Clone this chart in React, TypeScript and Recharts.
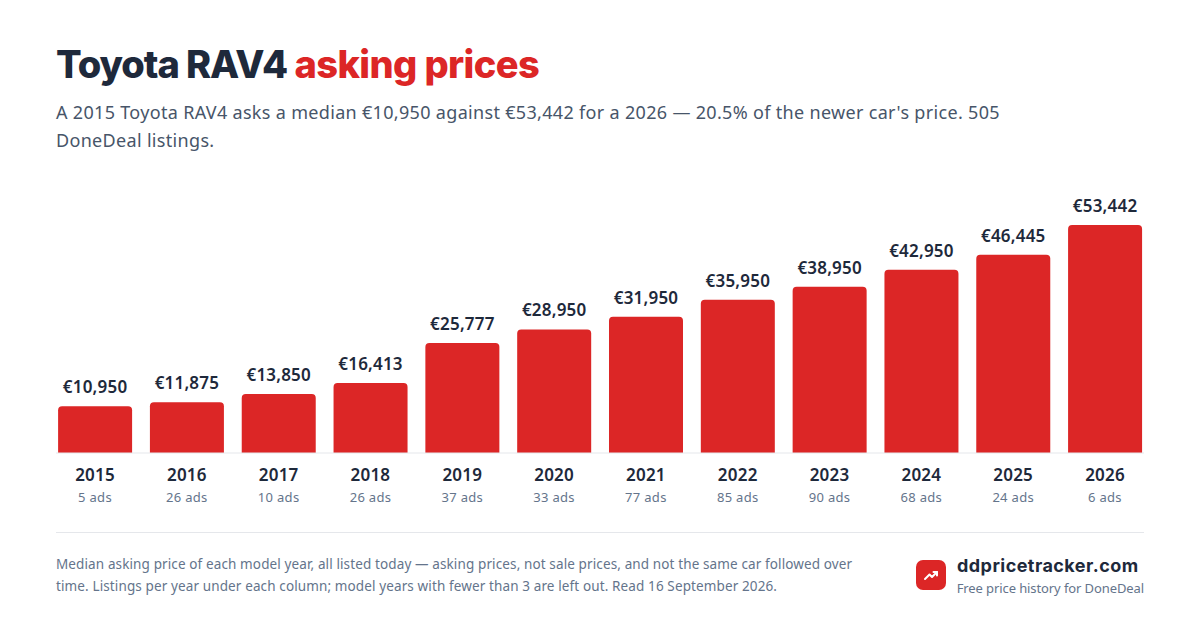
import { BarChart, Bar, XAxis, YAxis, LabelList } from "recharts";

const years = ["2015", "2016", "2017", "2018", "2019", "2020", "2021", "2022", "2023", "2024", "2025", "2026"];
const prices = [10950, 11875, 13850, 16413, 25777, 28950, 31950, 35950, 38950, 42950, 46445, 53442];
const adCounts = [5, 26, 10, 26, 37, 33, 77, 85, 90, 68, 24, 6];

const data = years.map((year, i) => ({ year, price: prices[i] }));

const RED = "#dc2626";
const INK = "#1e293b";
const SLATE = "#475569";
const MUTED = "#64748b";
const BODY_FONT = "'Noto Sans', sans-serif";

function YearTick({ x, y, payload, index }: any) {
  return (
    <g>
      <text x={x} y={y + 20} textAnchor="middle" fontFamily={BODY_FONT} fontSize={17} fontWeight={600} letterSpacing={0.2} fill={INK}>
        {payload.value}
      </text>
      <text x={x} y={y + 41} textAnchor="middle" fontFamily={BODY_FONT} fontSize={13} letterSpacing={0.3} fill={MUTED}>
        {adCounts[index]} ads
      </text>
    </g>
  );
}

const euro = (v: any) => "€" + Number(v).toLocaleString("en-US");

export default function App() {
  return (
    <div style={{ position: "absolute", left: 0, top: 0, width: 1200, height: 630, background: "#fff", overflow: "hidden", fontFamily: BODY_FONT }}>
      <div style={{ position: "absolute", left: 56, top: 40, fontFamily: "Inter, sans-serif", fontSize: 38, fontWeight: 800, letterSpacing: -1.05, lineHeight: "48px", color: INK, whiteSpace: "nowrap" }}>
        Toyota RAV4 <span style={{ color: RED, letterSpacing: -0.6 }}>asking prices</span>
      </div>
      <div style={{ position: "absolute", left: 56, top: 98, width: 980, fontSize: 18, letterSpacing: 0.32, lineHeight: "28px", color: SLATE }}>
        A 2015 Toyota RAV4 asks a median €10,950 against €53,442 for a 2026 — 20.5% of the newer car's price. 505 DoneDeal listings.
      </div>

      <BarChart
        width={1200}
        height={630}
        data={data}
        margin={{ top: 225, right: 56, bottom: 0, left: 56 }}
        barSize={74}
        style={{ position: "absolute", left: 0, top: 0 }}
      >
        <XAxis
          dataKey="year"
          height={177}
          interval={0}
          padding={{ left: -6.9, right: -6.9 }}
          axisLine={{ stroke: "#e5e7eb", strokeWidth: 1 }}
          tickLine={false}
          tick={<YearTick />}
        />
        <YAxis hide domain={[0, 53442]} />
        <Bar dataKey="price" fill={RED} radius={[4, 4, 0, 0]} isAnimationActive={false}>
          <LabelList dataKey="price" position="top" offset={13} formatter={euro} fontFamily={BODY_FONT} fontSize={17} fontWeight={600} letterSpacing={0.2} fill={INK} />
        </Bar>
      </BarChart>

      <div style={{ position: "absolute", left: 56, top: 532, width: 1088, height: 1, background: "#e5e7eb" }} />
      <div style={{ position: "absolute", left: 56, top: 553, width: 815, fontSize: 13.5, letterSpacing: 0.12, lineHeight: "22px", color: MUTED }}>
        Median asking price of each model year, all listed today — asking prices, not sale prices, and not the same car followed over time. Listings per year under each column; model years with fewer than 3 are left out. Read 16 September 2026.
      </div>

      <div style={{ position: "absolute", left: 916, top: 560, width: 30, height: 30, borderRadius: 7, background: RED }}>
        <svg width={30} height={30} viewBox="0 0 30 30" fill="none" stroke="#fff" strokeWidth={2} strokeLinecap="round" strokeLinejoin="round">
          <path d="M9 19l4.5-4.5 2.5 2.5 5-5" />
          <path d="M17.5 12H21v3.5" />
        </svg>
      </div>
      <div style={{ position: "absolute", left: 957, top: 554, fontFamily: "Inter, sans-serif", fontSize: 18, fontWeight: 700, letterSpacing: 0.45, lineHeight: "24px", color: INK, whiteSpace: "nowrap" }}>
        ddpricetracker.com
      </div>
      <div style={{ position: "absolute", right: 56, top: 579, fontSize: 13, letterSpacing: -0.1, lineHeight: "18px", color: MUTED, whiteSpace: "nowrap" }}>
        Free price history for DoneDeal
      </div>
    </div>
  );
}
